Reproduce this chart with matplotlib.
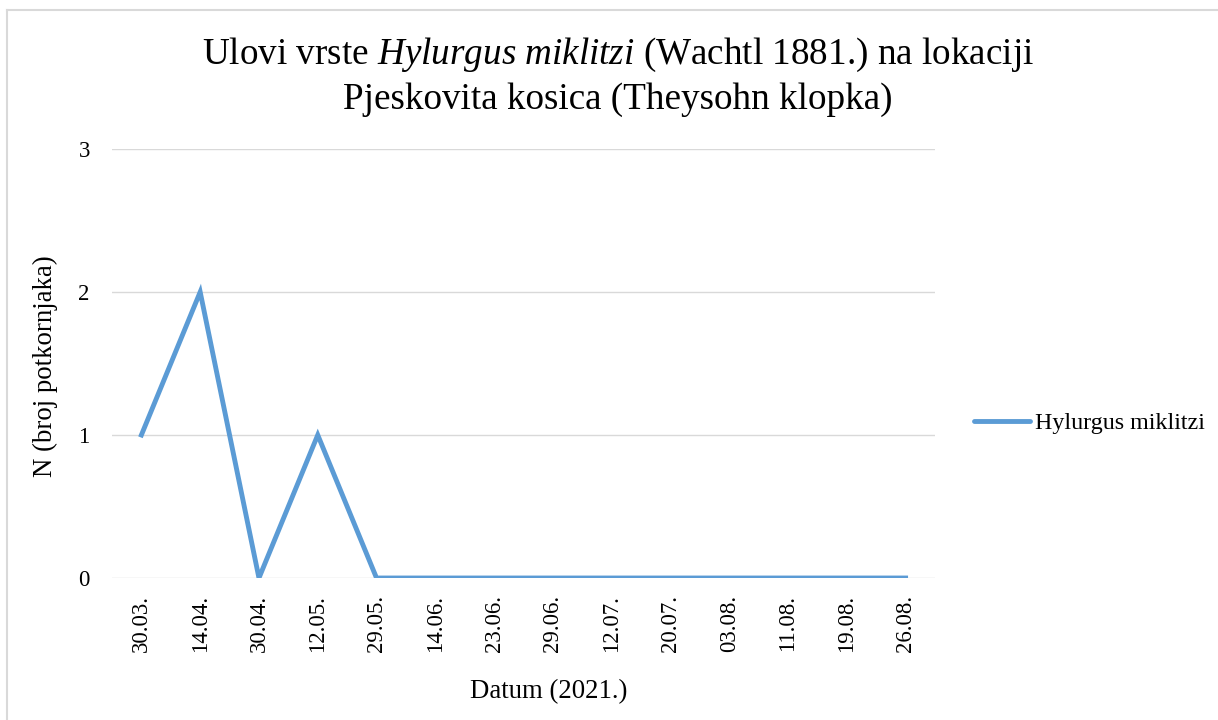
import matplotlib.pyplot as plt
from matplotlib.lines import Line2D

plt.rcParams['font.family'] = ['Liberation Serif', 'DejaVu Serif']
plt.rcParams['mathtext.fontset'] = 'custom'
plt.rcParams['mathtext.rm'] = 'Liberation Serif'
plt.rcParams['mathtext.it'] = 'Liberation Serif:italic'

dates = ['30.03.', '14.04.', '30.04.', '12.05.', '29.05.', '14.06.', '23.06.',
         '29.06.', '12.07.', '20.07.', '03.08.', '11.08.', '19.08.', '26.08.']
counts = [1, 2, 0, 1, 0, 0, 0, 0, 0, 0, 0, 0, 0, 0]

W, H = 1218, 720
fig = plt.figure(figsize=(W / 100, H / 100), dpi=100)

# chart area border (left and top edges visible)
fig.add_artist(Line2D([7 / W, 7 / W], [0, 1 - 10 / H], color='#D9D9D9', lw=1.5))
fig.add_artist(Line2D([7 / W, 1], [1 - 10 / H, 1 - 10 / H], color='#D9D9D9', lw=1.5))

ax = fig.add_axes([112 / W, 1 - 578 / H, (935 - 112) / W, (578 - 149) / H])
x = list(range(len(dates)))
ax.plot(x, counts, color='#5B9BD5', lw=3.5, solid_joinstyle='miter',
        label='Hylurgus miklitzi', zorder=3)

ax.set_xlim(-0.5, len(dates) - 0.5)
ax.set_ylim(0, 3)
ax.set_yticks([0, 1, 2, 3])
ax.set_xticks(x)
ax.set_xticklabels(dates, rotation=90)
ax.tick_params(axis='both', length=0, labelsize=16.5)
ax.tick_params(axis='y', pad=16)
ax.tick_params(axis='x', pad=12)
ax.grid(axis='y', color='#D9D9D9', lw=1)
ax.set_axisbelow(True)
for s in ax.spines.values():
    s.set_visible(False)

fig.text(618 / W, 1 - 55 / H,
         r'Ulovi vrste $\it{Hylurgus\ miklitzi}$ (Wachtl 1881.) na lokaciji',
         ha='center', va='center', fontsize=26.7)
fig.text(618 / W, 1 - 100 / H, 'Pjeskovita kosica (Theysohn klopka)',
         ha='center', va='center', fontsize=26.7)

fig.text(549 / W, 1 - 692 / H, 'Datum (2021.)', ha='center', va='center', fontsize=19.3)
fig.text(45 / W, 1 - 366 / H, 'N (broj potkornjaka)', ha='center', va='center',
         rotation=90, fontsize=19.3)

leg = fig.legend(loc='center left', bbox_to_anchor=(952 / W, 1 - 423 / H),
                 frameon=False, fontsize=17.3, handlelength=2.35, handletextpad=0.2)
for h in leg.get_lines():
    h.set_solid_capstyle('round')

fig.savefig('out.png', dpi=100)
